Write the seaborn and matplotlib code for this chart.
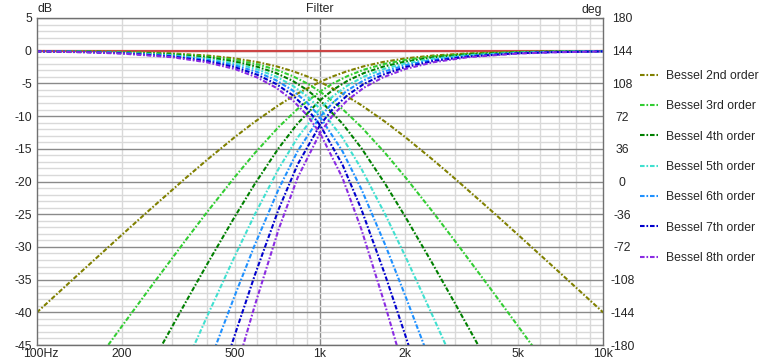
import matplotlib
matplotlib.use("Agg")
import matplotlib.pyplot as plt
import matplotlib.transforms as mtransforms
from matplotlib.lines import Line2D
from matplotlib.ticker import FixedLocator, MultipleLocator, NullFormatter
import pandas as pd
import seaborn as sns

# frequency as a ratio of the 1 kHz crossover; lowpass level in dB at each ratio
# (the highpass branch is the mirror image: same level at 1/ratio)
ratio = [0.1, 0.15, 0.2, 0.3, 0.4, 0.5, 0.6, 0.7, 0.8, 0.9, 1.0,
         1.2, 1.4, 1.7, 2.0, 2.5, 3.0, 4.0, 5.0, 7.0, 10.0]

bessel2_db = [-0.04, -0.10, -0.18, -0.41, -0.74, -1.18, -1.73, -2.38, -3.12, -3.92, -4.77,
              -6.55, -8.33, -10.88, -13.22, -16.66, -19.59, -24.36, -28.14, -33.89, -40.04]
bessel3_db = [-0.05, -0.12, -0.21, -0.49, -0.88, -1.40, -2.07, -2.90, -3.88, -5.00, -6.24,
              -8.91, -11.67, -15.67, -19.33, -24.64, -29.14, -36.40, -42.11, -50.80, -60.41]
bessel4_db = [-0.06, -0.14, -0.26, -0.58, -1.04, -1.66, -2.45, -3.42, -4.60, -6.00, -7.58,
              -11.14, -14.90, -20.39, -25.39, -32.61, -38.69, -48.44, -56.09, -67.70, -80.04]
bessel5_db = [-0.07, -0.17, -0.30, -0.68, -1.22, -1.94, -2.84, -3.96, -5.33, -6.96, -8.86,
              -13.28, -18.06, -25.06, -31.43, -40.57, -48.23, -60.48, -70.07, -84.60, -100.04]
bessel6_db = [-0.09, -0.19, -0.35, -0.78, -1.40, -2.22, -3.25, -4.52, -6.06, -7.92, -10.12,
              -15.36, -21.17, -29.72, -37.47, -48.53, -57.77, -72.52, -84.05, -101.50, -120.04]
bessel7_db = [-0.10, -0.22, -0.39, -0.89, -1.59, -2.51, -3.67, -5.08, -6.80, -8.88, -11.36,
              -17.41, -24.26, -34.36, -43.50, -56.49, -67.31, -84.56, -98.03, -118.40, -140.04]
bessel8_db = [-0.11, -0.25, -0.44, -0.99, -1.78, -2.80, -4.09, -5.66, -7.56, -9.85, -12.59,
              -19.43, -27.32, -39.00, -49.52, -64.45, -76.85, -96.60, -112.01, -135.30, -160.04]

labels = ["Bessel 2nd order", "Bessel 3rd order", "Bessel 4th order", "Bessel 5th order",
          "Bessel 6th order", "Bessel 7th order", "Bessel 8th order"]
colors = ["#808000", "#32cd32", "#008000", "#40e0d0", "#1e90ff", "#0000cd", "#8a2be2"]

crossover = 1000.0
flat_freq = [100, 10000]
flat_db = [0, 0]

xtick_vals = [100, 200, 500, 1000, 2000, 5000, 10000]
xtick_text = ["100Hz", "200", "500", "1k", "2k", "5k", "10k"]

rows = []
for lab, vals in zip(labels, [bessel2_db, bessel3_db, bessel4_db, bessel5_db,
                              bessel6_db, bessel7_db, bessel8_db]):
    for r, v in zip(ratio, vals):
        rows.append((lab, "low", crossover * r, v))
        rows.append((lab, "high", crossover / r, v))
df = pd.DataFrame(rows, columns=["filter", "branch", "freq", "db"])

sns.set_style("white")
plt.rcParams["font.family"] = ["Liberation Sans", "DejaVu Sans"]
plt.rcParams["font.size"] = 8.8
plt.rcParams["axes.unicode_minus"] = False

fig = plt.figure(figsize=(7.7, 3.6), dpi=100)
ax = fig.add_axes([36.7 / 770, 15 / 360, 566.6 / 770, 327 / 360])
ax.set_xscale("log")

dash = (0, (2.2, 0.9, 0.8, 0.9))

sns.lineplot(x=flat_freq, y=flat_db, color="#cc4444", lw=1.6, ax=ax)
for lab, col in zip(labels, colors):
    for branch in ["low", "high"]:
        sub = df[(df["filter"] == lab) & (df["branch"] == branch)]
        sns.lineplot(data=sub, x="freq", y="db", color=col, lw=1.5, linestyle=dash,
                     estimator=None, sort=True, ax=ax)

ax.set_xlim(100, 10000)
ax.set_ylim(-45, 5)
ax.set_xlabel("")
ax.set_ylabel("")

ax.xaxis.set_major_locator(FixedLocator(xtick_vals))
ax.set_xticklabels(xtick_text)
ax.xaxis.set_minor_locator(FixedLocator([i * 10 ** d for d in (2, 3) for i in range(2, 10)]))
ax.xaxis.set_minor_formatter(NullFormatter())
ax.xaxis.remove_overlapping_locs = False
ax.yaxis.set_major_locator(MultipleLocator(5))
ax.yaxis.set_minor_locator(MultipleLocator(1))

light = "#d9d9d9"
dark = "#8a8a8a"
ax.grid(which="minor", axis="x", color=light, lw=1)
ax.grid(which="minor", axis="y", color=light, lw=1)
ax.grid(which="major", axis="y", color=dark, lw=1)
ax.axvline(1000, color=dark, lw=1, zorder=0.5)
ax.set_axisbelow(True)
ax.tick_params(which="both", length=0)
ax.tick_params(axis="y", pad=3.5)
ax.tick_params(axis="x", pad=2.2)
for s in ax.spines.values():
    s.set_color("#707070")
    s.set_linewidth(1)

first = ax.get_xticklabels()[0]
first.set_ha("left")
first.set_transform(first.get_transform() +
                    mtransforms.ScaledTranslation(-9.5 / 72, 0, fig.dpi_scale_trans))

ax2 = ax.twinx()
ax2.set_ylim(-180, 180)
ax2.set_yticks(range(-180, 181, 36))
ax2.tick_params(length=0, pad=13.7)
for t in ax2.get_yticklabels():
    t.set_ha("center")
for s in ax2.spines.values():
    s.set_visible(False)

fig.text(37.5 / 770, 1 - 9.5 / 360, "dB", ha="left", va="center")
fig.text(320 / 770, 1 - 9.5 / 360, "Filter", ha="center", va="center")
fig.text(602 / 770, 1 - 9.5 / 360, "deg", ha="right", va="center")

handles = [Line2D([], [], color=c, lw=1.5, linestyle=dash) for c in colors]
fig.legend(handles, labels, loc="upper left", bbox_to_anchor=(640 / 770, 1 - 70 / 360),
           frameon=False, borderpad=0, borderaxespad=0, handlelength=1.5,
           handletextpad=0.6, labelspacing=1.5)

fig.savefig("out.png", dpi=100)
